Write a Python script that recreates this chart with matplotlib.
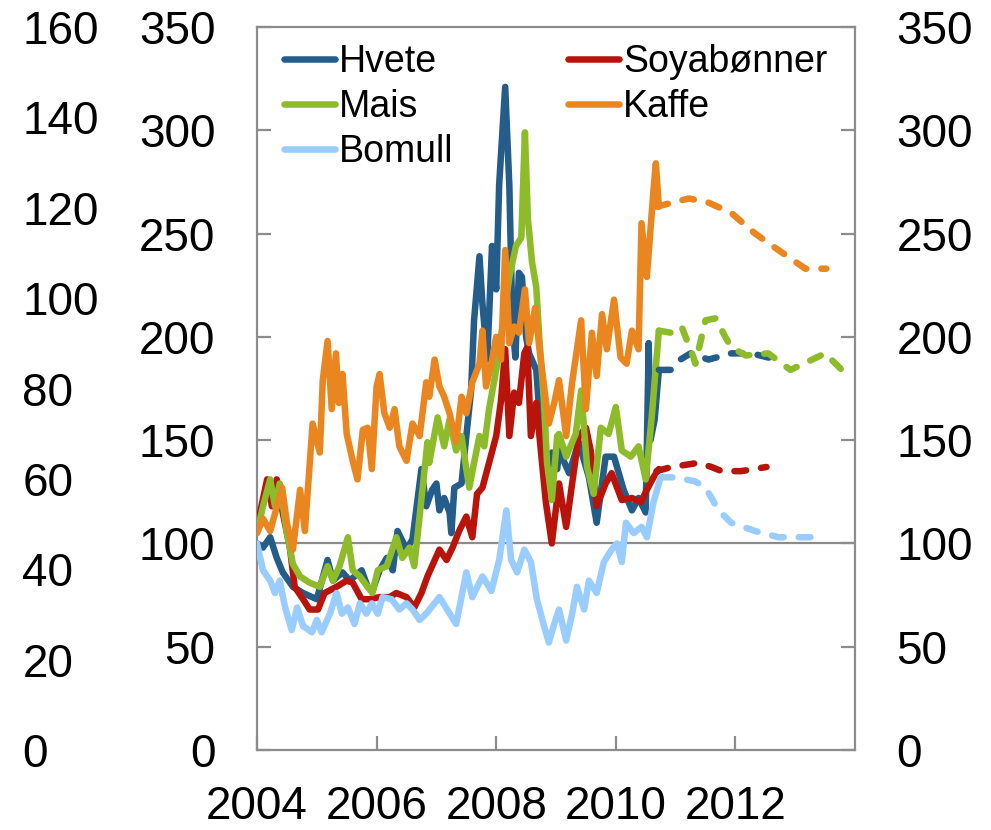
import matplotlib
matplotlib.use("Agg")
import matplotlib.pyplot as plt

plt.rcParams['font.family'] = ['Liberation Sans', 'DejaVu Sans']

# ---------------- data (decimal years, index values) ----------------
hvete_t = [2004.00, 2004.10, 2004.22, 2004.33, 2004.43, 2004.60, 2004.77, 2005.00, 2005.18, 2005.27,
           2005.43, 2005.55, 2005.75, 2005.85, 2005.93, 2006.05, 2006.17, 2006.27, 2006.35, 2006.50,
           2006.60, 2006.75, 2006.83, 2006.93, 2007.00, 2007.05, 2007.13, 2007.22, 2007.25, 2007.30,
           2007.42, 2007.50, 2007.58, 2007.63, 2007.72, 2007.77, 2007.85, 2007.93, 2008.00, 2008.05,
           2008.15, 2008.22, 2008.27, 2008.32, 2008.38, 2008.43, 2008.50, 2008.55, 2008.67, 2008.75,
           2008.83, 2008.93, 2009.02, 2009.05, 2009.22, 2009.38, 2009.55, 2009.68, 2009.83, 2009.97,
           2010.13, 2010.27, 2010.38, 2010.50, 2010.55, 2010.58, 2010.65, 2010.72]
hvete_v = [100, 98, 103, 93, 86, 79, 76, 73, 92, 82,
           86, 82, 87, 79, 77, 87, 93, 87, 106, 97,
           102, 136, 118, 126, 129, 116, 122, 115, 105, 127,
           129, 152, 174, 208, 239, 216, 189, 244, 223, 274,
           321, 273, 208, 190, 231, 229, 200, 192, 184, 152,
           132, 144, 136, 145, 134, 149, 132, 110, 142, 142,
           126, 116, 122, 115, 197, 150, 160, 184]

soya_t = [2004.00, 2004.17, 2004.25, 2004.33, 2004.43, 2004.55, 2004.63, 2004.77, 2004.88, 2005.02,
          2005.13, 2005.33, 2005.50, 2005.60, 2005.75, 2005.88, 2006.05, 2006.22, 2006.33, 2006.50,
          2006.63, 2006.75, 2006.85, 2007.05, 2007.17, 2007.27, 2007.38, 2007.50, 2007.60, 2007.68,
          2007.77, 2007.88, 2008.00, 2008.08, 2008.15, 2008.22, 2008.30, 2008.38, 2008.47, 2008.52,
          2008.58, 2008.67, 2008.75, 2008.83, 2008.93, 2009.02, 2009.05, 2009.17, 2009.27, 2009.38,
          2009.50, 2009.58, 2009.68, 2009.83, 2009.93, 2010.10, 2010.27, 2010.42, 2010.52, 2010.63,
          2010.72]
soya_v = [108, 131, 118, 131, 115, 98, 79, 73, 68, 68,
          76, 79, 82, 81, 73, 73, 74, 74, 76, 74,
          69, 76, 84, 97, 92, 98, 106, 113, 103, 124,
          127, 139, 152, 169, 194, 152, 173, 168, 192, 195,
          152, 168, 144, 120, 100, 122, 129, 108, 129, 152,
          156, 145, 118, 129, 134, 121, 122, 120, 126, 132,
          136]

mais_t = [2004.00, 2004.10, 2004.22, 2004.30, 2004.38, 2004.50, 2004.60, 2004.72, 2004.88, 2005.05,
          2005.18, 2005.27, 2005.38, 2005.52, 2005.60, 2005.72, 2005.85, 2005.93, 2006.02, 2006.17,
          2006.33, 2006.43, 2006.55, 2006.63, 2006.77, 2006.85, 2006.88, 2007.02, 2007.13, 2007.22,
          2007.33, 2007.42, 2007.50, 2007.55, 2007.63, 2007.72, 2007.80, 2007.88, 2008.00, 2008.08,
          2008.22, 2008.33, 2008.42, 2008.48, 2008.53, 2008.60, 2008.67, 2008.72, 2008.80, 2008.85,
          2008.93, 2009.02, 2009.05, 2009.17, 2009.33, 2009.42, 2009.52, 2009.63, 2009.75, 2009.88,
          2010.00, 2010.10, 2010.25, 2010.38, 2010.50, 2010.60, 2010.72]
mais_v = [105, 118, 131, 118, 129, 105, 90, 84, 81, 79,
          89, 82, 89, 103, 87, 84, 79, 76, 87, 89,
          103, 93, 98, 89, 127, 149, 139, 161, 147, 160,
          145, 152, 136, 127, 139, 152, 147, 165, 184, 200,
          229, 244, 248, 299, 257, 236, 224, 200, 168, 139,
          121, 152, 153, 142, 153, 174, 137, 124, 156, 153,
          166, 145, 142, 147, 131, 161, 203]

kaffe_t = [2004.00, 2004.10, 2004.22, 2004.42, 2004.50, 2004.60, 2004.72, 2004.80, 2004.93, 2005.05,
           2005.10, 2005.18, 2005.25, 2005.32, 2005.37, 2005.43, 2005.50, 2005.60, 2005.68, 2005.77,
           2005.85, 2005.92, 2006.00, 2006.05, 2006.13, 2006.22, 2006.30, 2006.38, 2006.50, 2006.60,
           2006.72, 2006.83, 2006.88, 2006.97, 2007.05, 2007.13, 2007.22, 2007.33, 2007.42, 2007.50,
           2007.60, 2007.72, 2007.77, 2007.83, 2007.92, 2008.00, 2008.08, 2008.15, 2008.22, 2008.30,
           2008.38, 2008.48, 2008.55, 2008.65, 2008.72, 2008.80, 2008.88, 2008.97, 2009.05, 2009.17,
           2009.27, 2009.42, 2009.50, 2009.60, 2009.68, 2009.77, 2009.85, 2009.97, 2010.08, 2010.18,
           2010.27, 2010.38, 2010.43, 2010.52, 2010.58, 2010.63, 2010.67, 2010.72]
kaffe_v = [105, 112, 106, 127, 110, 97, 126, 106, 158, 144,
           179, 198, 165, 192, 168, 182, 153, 140, 131, 155,
           156, 136, 176, 182, 163, 156, 165, 147, 140, 158,
           152, 178, 171, 189, 176, 171, 163, 149, 171, 163,
           178, 187, 203, 176, 187, 200, 189, 242, 197, 205,
           202, 223, 197, 214, 195, 176, 158, 168, 179, 152,
           178, 208, 165, 202, 181, 211, 194, 218, 190, 187,
           203, 194, 255, 229, 252, 271, 284, 263]

bomull_t = [2004.00, 2004.10, 2004.22, 2004.30, 2004.38, 2004.47, 2004.58, 2004.67, 2004.77, 2004.92,
            2005.00, 2005.08, 2005.22, 2005.33, 2005.42, 2005.52, 2005.63, 2005.72, 2005.83, 2005.92,
            2006.02, 2006.10, 2006.25, 2006.38, 2006.50, 2006.60, 2006.72, 2006.83, 2007.05, 2007.33,
            2007.50, 2007.60, 2007.77, 2007.92, 2008.05, 2008.17, 2008.25, 2008.35, 2008.47, 2008.58,
            2008.68, 2008.80, 2008.88, 2008.97, 2009.05, 2009.17, 2009.27, 2009.35, 2009.47, 2009.55,
            2009.68, 2009.80, 2009.93, 2010.02, 2010.10, 2010.17, 2010.30, 2010.43, 2010.52, 2010.63,
            2010.75]
bomull_v = [100, 87, 82, 76, 82, 69, 58, 69, 60, 57,
            63, 57, 66, 76, 66, 69, 61, 71, 66, 71,
            66, 74, 73, 68, 71, 68, 63, 66, 74, 61,
            86, 74, 84, 77, 92, 116, 92, 86, 97, 91,
            73, 60, 52, 61, 68, 53, 66, 79, 68, 82,
            76, 91, 97, 100, 91, 110, 105, 108, 103, 120,
            132]

# forecasts (dashed)
hvete_f_t = [2010.72, 2010.92, 2011.08, 2011.25, 2011.55, 2011.93, 2012.27, 2012.55, 2012.80]
hvete_f_v = [184, 184, 189, 192, 189, 192, 192, 190, 190]
soya_f_t = [2010.68, 2010.93, 2011.38, 2011.60, 2011.77, 2012.10, 2012.52]
soya_f_v = [135, 137, 139, 137, 135, 135, 137]
mais_f_t = [2010.72, 2010.92, 2011.10, 2011.30, 2011.33, 2011.50, 2011.67, 2011.83, 2011.93, 2012.17,
            2012.55, 2012.92, 2013.50, 2013.92]
mais_f_v = [203, 202, 205, 190, 187, 208, 209, 200, 195, 191,
            192, 184, 192, 180]
kaffe_f_t = [2010.68, 2011.22, 2011.55, 2011.93, 2012.33, 2012.72, 2013.17, 2013.52]
kaffe_f_v = [263, 267, 265, 260, 250, 242, 233, 233]
bomull_f_t = [2010.75, 2011.00, 2011.33, 2011.50, 2011.72, 2011.93, 2012.33, 2012.72, 2013.10, 2013.50]
bomull_f_v = [132, 132, 130, 127, 116, 110, 106, 103, 103, 103]

names = ["Hvete", "Soyabønner", "Mais", "Kaffe", "Bomull"]
colors = ["#245C8A", "#B8140B", "#8DBB2A", "#EA8620", "#99CCFF"]

x_ticks = [2004, 2006, 2008, 2010, 2012]
y_ticks = [0, 50, 100, 150, 200, 250, 300, 350]
outer_ticks = [0, 20, 40, 60, 80, 100, 120, 140, 160]

# ---------------- figure ----------------
fig = plt.figure(figsize=(9.91, 8.30), dpi=100)
ax = fig.add_axes([257/991, 1-750/830, (855-257)/991, (750-27)/830])

grey = "#8C8C8C"
lw = 4.7
actual = [(hvete_t, hvete_v), (soya_t, soya_v), (mais_t, mais_v), (kaffe_t, kaffe_v), (bomull_t, bomull_v)]
fcast = [(hvete_f_t, hvete_f_v), (soya_f_t, soya_f_v), (mais_f_t, mais_f_v), (kaffe_f_t, kaffe_f_v),
         (bomull_f_t, bomull_f_v)]

ax.axhline(100, color=grey, lw=1.6, zorder=1)

handles = []
for (t, v), name, c in zip(actual, names, colors):
    h, = ax.plot(t, v, color=c, lw=lw, solid_capstyle='round', solid_joinstyle='round', label=name, zorder=3)
    handles.append(h)
for (t, v), c in zip(fcast, colors):
    ax.plot(t, v, color=c, lw=lw, ls=(0, (1.8, 2.3)), dash_capstyle='round', zorder=3)

ax.set_xlim(2004, 2014)
ax.set_ylim(0, 350)
ax.set_xticks(x_ticks)
ax.set_xticklabels([str(x) for x in x_ticks])
ax.set_yticks(y_ticks)

for s in ax.spines.values():
    s.set_color(grey)
    s.set_linewidth(1.6)

fs = 33
ax.tick_params(axis='both', direction='in', length=10, width=1.6, color=grey, labelsize=fs)
ax.tick_params(axis='y', pad=30)
ax.tick_params(axis='x', pad=25)

# right axis (same scale)
ax2 = ax.twinx()
ax2.set_ylim(0, 350)
ax2.set_yticks(y_ticks)
ax2.tick_params(axis='y', direction='in', length=10, width=1.6, color=grey, labelsize=fs, pad=30)
for s in ax2.spines.values():
    s.set_visible(False)

# outer-left axis (0-160)
ax3 = ax.twinx()
ax3.set_ylim(0, 160)
ax3.set_yticks(outer_ticks)
ax3.yaxis.tick_left()
ax3.tick_params(axis='y', length=0, labelsize=fs, pad=169)
for lab in ax3.get_yticklabels():
    lab.set_horizontalalignment('left')
for s in ax3.spines.values():
    s.set_visible(False)

order = [0, 2, 4, 1, 3]
leg = ax.legend([handles[i] for i in order], [names[i] for i in order], ncol=2, loc='upper left',
                frameon=False, fontsize=27, handlelength=1.35, handletextpad=0.12,
                columnspacing=3.05, labelspacing=0.24, borderaxespad=0.0,
                bbox_to_anchor=(0.02, 0.997))

fig.savefig("out.png", dpi=100)
